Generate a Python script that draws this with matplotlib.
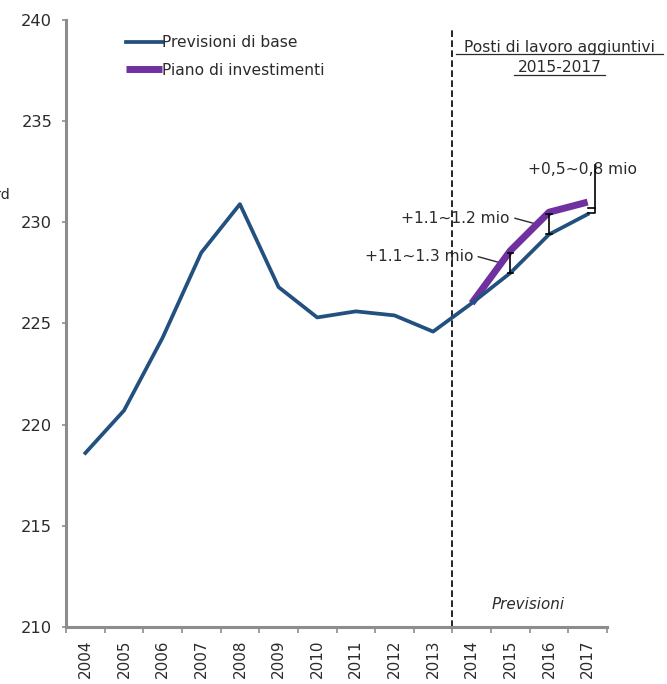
import numpy as np
import matplotlib.pyplot as plt

years = [str(y) for y in range(2004, 2018)]
base = [218.6, 220.7, 224.3, 228.5, 230.9, 226.8, 225.3, 225.6, 225.4, 224.6,
        226.0, 227.5, 229.4, 230.4]
plan_years = ["2014", "2015", "2016", "2017"]
plan = [226.0, 228.6, 230.5, 231.0]
gap_labels = ["+1.1~1.3 mio", "+1.1~1.2 mio", "+0,5~0,8 mio"]

BLUE = "#22507f"
PURPLE = "#7030a0"
GREY = "#8c8c8c"
TXT = "#2b2b2b"
FS = 11.2

x = np.arange(len(years))
xp = np.array([years.index(y) for y in plan_years])

fig = plt.figure(figsize=(6.67, 6.84), dpi=100)
ax = fig.add_axes([0.099, 0.0833, 0.811, 0.8875])

ax.plot(xp, plan, color=PURPLE, lw=5, solid_capstyle="butt", label="Piano di investimenti", zorder=3)
ax.plot(x, base, color=BLUE, lw=2.7, label="Previsioni di base", zorder=4)

# forecast boundary
ax.plot([9.5, 9.5], [210, 239.6], color="black", lw=1.2, ls=(0, (4, 2)), zorder=2)
ax.text(11.45, 210.9, "Previsioni", style="italic", fontsize=FS - 0.3, color=TXT, ha="center")

# brackets between baseline and investment plan
b15, p15 = base[11], plan[1]
b16, p16 = base[12], plan[2]
b17, p17 = base[13], plan[3]
for xi, lo, hi in [(11, b15, p15 - 0.1), (12, b16, p16 - 0.1)]:
    ax.plot([xi, xi], [lo, hi], color="black", lw=1.2, zorder=5)
    ax.plot([xi - 0.07, xi + 0.07], [hi, hi], color="black", lw=1.2, zorder=5)
    ax.plot([xi - 0.07, xi + 0.07], [lo, lo], color="black", lw=1.2, zorder=5)
ax.plot([13.0, 13.19, 13.19, 13.0], [b17 + 0.05, b17 + 0.05, p17 - 0.3, p17 - 0.3],
        color="black", lw=1.2, zorder=5)
ax.plot([13.19, 13.19], [p17 - 0.3, 232.85], color="black", lw=1.2, zorder=5)

ax.text(10.04, 228.3, gap_labels[0], fontsize=FS, color=TXT, ha="right", va="center")
ax.plot([10.17, 10.74], [228.3, 228.0], color=TXT, lw=1)
ax.text(10.99, 230.2, gap_labels[1], fontsize=FS, color=TXT, ha="right", va="center")
ax.plot([11.12, 11.6], [230.2, 229.95], color=TXT, lw=1)
ax.text(11.45, 232.6, gap_labels[2], fontsize=FS, color=TXT, ha="left", va="center")

ax.text(12.28, 238.65, "Posti di lavoro aggiuntivi", fontsize=FS, color=TXT,
        ha="center", va="center")
ax.plot([9.6, 14.95], [238.3, 238.3], color=TXT, lw=0.9, clip_on=False)
ax.text(12.28, 237.65, "2015-2017", fontsize=FS, color=TXT, ha="center", va="center")
ax.plot([11.1, 13.45], [237.28, 237.28], color=TXT, lw=0.9, clip_on=False)

ax.set_xlim(-0.5, 13.5)
ax.set_ylim(210, 240)
ax.set_yticks(range(210, 241, 5))
ax.set_xticks(x)
ax.set_xticklabels(years, rotation=90, fontsize=FS - 0.3, color=TXT)
ax.set_xticks(np.arange(-0.5, 14, 1), minor=True)
ax.tick_params(axis="x", which="major", length=0, pad=9)
ax.tick_params(axis="x", which="minor", length=4, color=GREY, width=1.2)
ax.tick_params(axis="y", length=3, color=GREY, width=1.2, labelsize=FS + 0.5, labelcolor=TXT, pad=7)

for s in ["top", "right"]:
    ax.spines[s].set_visible(False)
for s in ["left", "bottom"]:
    ax.spines[s].set_color(GREY)
    ax.spines[s].set_linewidth(2.2)

handles, labels = ax.get_legend_handles_labels()
ax.legend(handles[::-1], labels[::-1], loc="upper left", bbox_to_anchor=(0.085, 0.998),
          frameon=False, fontsize=FS, handlelength=2.3, handletextpad=0.0,
          labelspacing=0.8, labelcolor=TXT)

fig.text(0.015, 1 - 195 / 684, "Mrd", fontsize=FS - 1, color=TXT, ha="right", va="center")

fig.savefig("out.png", dpi=100)
